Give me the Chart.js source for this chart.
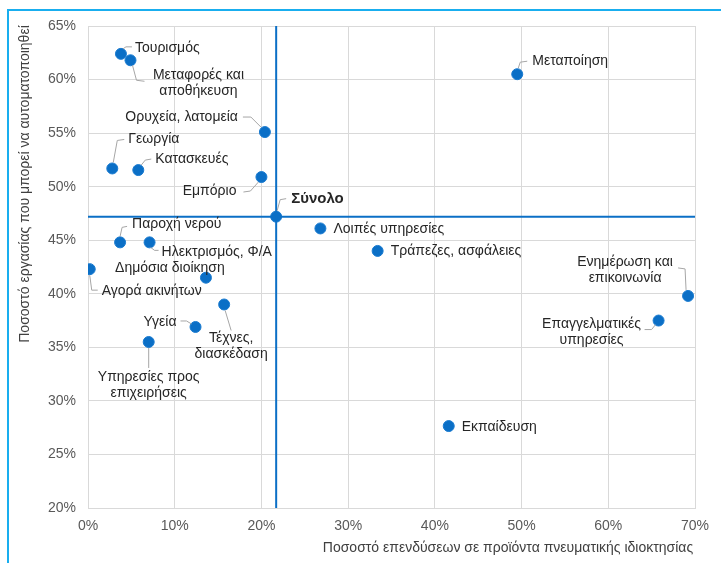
<!DOCTYPE html>
<html>
<head>
<meta charset="utf-8">
<script src="https://cdn.jsdelivr.net/npm/chart.js@4"></script>
<style>
  html, body { margin: 0; padding: 0; background: #fff; }
  #wrap { position: relative; width: 721px; height: 563px; }
</style>
</head>
<body>
<div id="wrap"><canvas id="chart" width="721" height="563"></canvas></div>
<script>
// Sector data: x = share of investment in IP products, y = share of automatable work (%)
const sectors = [
  "Τουρισμός", "Μεταφορές και αποθήκευση", "Ορυχεία, λατομεία", "Γεωργία", "Κατασκευές",
  "Εμπόριο", "Λοιπές υπηρεσίες", "Τράπεζες, ασφάλειες", "Παροχή νερού", "Ηλεκτρισμός, Φ/Α",
  "Δημόσια διοίκηση", "Αγορά ακινήτων", "Τέχνες, διασκέδαση", "Υγεία",
  "Υπηρεσίες προς επιχειρήσεις", "Εκπαίδευση", "Μεταποίηση", "Ενημέρωση και επικοινωνία",
  "Επαγγελματικές υπηρεσίες"
];
const ipInvestment = [3.8, 4.9, 20.4, 2.8, 5.8, 20.0, 26.8, 33.4, 3.7, 7.1, 13.6, 0.2, 15.7, 12.4, 7.0, 41.6, 49.5, 69.2, 65.8];
const automation   = [62.4, 61.8, 55.1, 51.7, 51.55, 50.9, 46.1, 44.0, 44.8, 44.8, 41.5, 42.3, 39.0, 36.9, 35.5, 27.65, 60.5, 39.8, 37.5];

const totalLabel = "Σύνολο";
const totalX = 21.7;
const totalY = 47.2;

const xTicks = [0, 10, 20, 30, 40, 50, 60, 70];
const yTicks = [20, 25, 30, 35, 40, 45, 50, 55, 60, 65];

const xTitle = "Ποσοστό επενδύσεων σε προϊόντα πνευματικής ιδιοκτησίας";
const yTitle = "Ποσοστό εργασίας που μπορεί να αυτοματοποιηθεί";

// Label placement relative to each point (pixels): text lines, offset, alignment, leader path
const labelLayout = [
  { lines: ["Τουρισμός"], dx: 14, dy: -6, align: "left", leader: [[2, -5], [5, -7], [11, -7]] },
  { lines: ["Μεταφορές και", "αποθήκευση"], dx: 68, dy: 15, align: "center", leader: [[2, 5], [6, 20], [14, 21]] },
  { lines: ["Ορυχεία, λατομεία"], dx: -27, dy: -15, align: "right", leader: [[-4, -5], [-14, -15], [-22, -15]] },
  { lines: ["Γεωργία"], dx: 16, dy: -29, align: "left", leader: [[1, -6], [5, -28], [12, -29]] },
  { lines: ["Κατασκευές"], dx: 17, dy: -11, align: "left", leader: [[3, -5], [7, -10], [13, -11]] },
  { lines: ["Εμπόριο"], dx: -25, dy: 14, align: "right", leader: [[-3, 5], [-11, 14], [-18, 15]] },
  { lines: ["Λοιπές υπηρεσίες"], dx: 13, dy: 1, align: "left", leader: null },
  { lines: ["Τράπεζες, ασφάλειες"], dx: 13, dy: 0, align: "left", leader: null },
  { lines: ["Παροχή νερού"], dx: 12, dy: -18, align: "left", leader: [[0, -6], [2, -15], [7, -16]] },
  { lines: ["Ηλεκτρισμός, Φ/Α"], dx: 12, dy: 10, align: "left", leader: [[1, 5], [5, 8], [9, 8]] },
  { lines: ["Δημόσια διοίκηση"], dx: -36, dy: -10, align: "center", leader: null },
  { lines: ["Αγορά ακινήτων"], dx: 12, dy: 22, align: "left", leader: [[0, 6], [2, 21], [8, 21]] },
  { lines: ["Τέχνες,", "διασκέδαση"], dx: 7, dy: 34, align: "center", leader: [[1, 6], [7, 26]] },
  { lines: ["Υγεία"], dx: -19, dy: -5, align: "right", leader: [[-4, -3], [-9, -6], [-15, -6]] },
  { lines: ["Υπηρεσίες προς", "επιχειρήσεις"], dx: 0, dy: 35, align: "center", leader: [[0, 6], [0, 26]] },
  { lines: ["Εκπαίδευση"], dx: 13, dy: 1, align: "left", leader: null },
  { lines: ["Μεταποίηση"], dx: 15, dy: -13, align: "left", leader: [[1, -6], [3, -12], [10, -13]] },
  { lines: ["Ενημέρωση και", "επικοινωνία"], dx: -63, dy: -34, align: "center", leader: [[-2, -6], [-3, -27], [-10, -28]] },
  { lines: ["Επαγγελματικές", "υπηρεσίες"], dx: -67, dy: 4, align: "center", leader: [[-3, 4], [-7, 9], [-14, 9]] }
];

const FONT = "'Liberation Sans', Arial, sans-serif";
const BLUE = "#0b6fc6";

// Draw frame, axis titles and point labels
const decorPlugin = {
  id: "decor",
  beforeDraw(chart) {
    const ctx = chart.ctx;
    ctx.save();
    ctx.strokeStyle = "#19aeef";
    ctx.lineWidth = 2;
    ctx.beginPath();
    ctx.moveTo(8, 563);
    ctx.lineTo(8, 10);
    ctx.lineTo(721, 10);
    ctx.stroke();
    ctx.restore();
  },
  afterDatasetsDraw(chart) {
    const ctx = chart.ctx;
    const meta = chart.getDatasetMeta(2);
    ctx.save();
    ctx.fillStyle = "#262626";
    ctx.textBaseline = "middle";
    meta.data.forEach((pt, i) => {
      const lay = labelLayout[i];
      if (!lay) return;
      if (lay.leader) {
        ctx.strokeStyle = "#a6a6a6";
        ctx.lineWidth = 1;
        ctx.beginPath();
        lay.leader.forEach(([lx, ly], j) => {
          if (j === 0) ctx.moveTo(pt.x + lx, pt.y + ly);
          else ctx.lineTo(pt.x + lx, pt.y + ly);
        });
        ctx.stroke();
      }
      ctx.font = "14px " + FONT;
      ctx.textAlign = lay.align;
      lay.lines.forEach((line, k) => {
        ctx.fillText(line, pt.x + lay.dx, pt.y + lay.dy + k * 16);
      });
    });

    // total label
    const tp = chart.getDatasetMeta(3).data[0];
    ctx.strokeStyle = "#a6a6a6";
    ctx.lineWidth = 1;
    ctx.beginPath();
    ctx.moveTo(tp.x + 1, tp.y - 6);
    ctx.lineTo(tp.x + 4, tp.y - 17);
    ctx.lineTo(tp.x + 10, tp.y - 18);
    ctx.stroke();
    ctx.font = "bold 15px " + FONT;
    ctx.textAlign = "left";
    ctx.fillStyle = "#262626";
    ctx.fillText(totalLabel, tp.x + 15, tp.y - 18);

    // axis titles
    ctx.fillStyle = "#404040";
    ctx.font = "14px " + FONT;
    ctx.textAlign = "center";
    ctx.fillText(xTitle, 508, 548);
    ctx.translate(25, 184);
    ctx.rotate(-Math.PI / 2);
    ctx.fillText(yTitle, 0, 0);
    ctx.restore();
  }
};

const ctx = document.getElementById("chart").getContext("2d");
new Chart(ctx, {
  type: "scatter",
  data: {
    datasets: [
      {
        type: "line",
        data: [{ x: totalX, y: yTicks[0] }, { x: totalX, y: yTicks[yTicks.length - 1] }],
        borderColor: BLUE,
        borderWidth: 2,
        pointRadius: 0,
        fill: false
      },
      {
        type: "line",
        data: [{ x: xTicks[0], y: totalY }, { x: xTicks[xTicks.length - 1], y: totalY }],
        borderColor: BLUE,
        borderWidth: 2,
        pointRadius: 0,
        fill: false
      },
      {
        data: sectors.map((s, i) => ({ x: ipInvestment[i], y: automation[i] })),
        backgroundColor: BLUE,
        borderColor: "#1a7bd0",
        borderWidth: 1,
        pointRadius: 5.5
      },
      {
        data: [{ x: totalX, y: totalY }],
        backgroundColor: BLUE,
        borderColor: "#1a7bd0",
        borderWidth: 1,
        pointRadius: 5.5
      }
    ]
  },
  options: {
    responsive: false,
    animation: false,
    layout: { padding: { top: 26, right: 26, left: 0, bottom: 0 } },
    plugins: {
      legend: { display: false },
      tooltip: { enabled: false }
    },
    scales: {
      x: {
        type: "linear",
        min: xTicks[0],
        max: xTicks[xTicks.length - 1],
        afterBuildTicks: (scale) => { scale.ticks = xTicks.map((v) => ({ value: v })); },
        afterFit: (scale) => { scale.height = 55; },
        grid: { color: "#d9d9d9", drawTicks: false },
        border: { color: "#d9d9d9" },
        ticks: {
          padding: 10,
          color: "#595959",
          font: { family: FONT, size: 14 },
          callback: (v) => v + "%"
        }
      },
      y: {
        type: "linear",
        min: yTicks[0],
        max: yTicks[yTicks.length - 1],
        afterBuildTicks: (scale) => { scale.ticks = yTicks.map((v) => ({ value: v })); },
        afterFit: (scale) => { scale.width = 88; },
        grid: { color: "#d9d9d9", drawTicks: false },
        border: { color: "#d9d9d9" },
        ticks: {
          padding: 12,
          color: "#595959",
          font: { family: FONT, size: 14 },
          callback: (v) => v + "%"
        }
      }
    }
  },
  plugins: [decorPlugin]
});
</script>
</body>
</html>
